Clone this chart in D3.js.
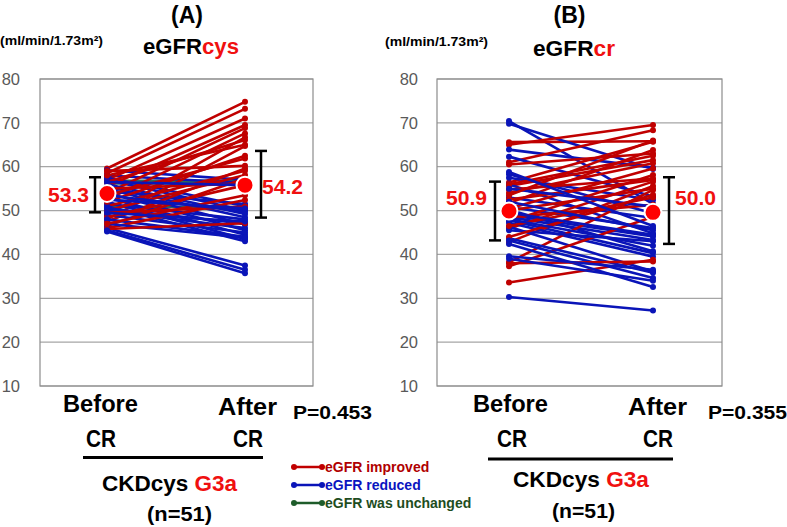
<!DOCTYPE html>
<html>
<head>
<meta charset="utf-8">
<script src="https://cdn.jsdelivr.net/npm/d3@7"></script>
<style>
  html, body { margin: 0; padding: 0; background: #fff; }
  svg { display: block; font-family: "Liberation Sans", Arial, sans-serif; }
</style>
</head>
<body>
<svg id="chart" width="787" height="527"></svg>
<script>
// ---------------- DATA ----------------
const categories = ["Before CR", "After CR"];
const yTicks = [10, 20, 30, 40, 50, 60, 70, 80];

// Panel A: eGFRcys, paired values (before, after) per patient
const cysBefore = [59.6, 59.2, 58.5, 58.0, 57.0, 57.5, 55.5, 57.0, 54.0, 56.0, 52.5, 55.5, 49.0, 55.0, 56.5, 54.5,
  48.0, 54.0, 53.5, 53.0, 59.0, 52.0, 47.5, 51.5, 51.0, 51.0, 50.0, 50.5, 46.5, 50.0, 55.0, 49.0, 48.5, 48.0,
  46.0, 47.0, 49.5, 46.0, 45.8, 45.5, 47.0, 45.2, 52.0, 56.5, 58.0, 53.5, 52.5, 49.5, 56.2, 56.8, 50.8];
const cysAfter = [74.8, 57.0, 73.2, 56.3, 71.0, 51.0, 69.5, 50.0, 68.8, 49.2, 67.6, 48.5, 66.7, 46.8, 66.1, 51.5,
  64.7, 45.5, 61.9, 44.5, 60.2, 43.5, 59.6, 48.0, 59.1, 43.0, 58.1, 47.0, 57.3, 46.0, 56.2, 45.0, 55.8, 44.0,
  52.4, 43.8, 50.9, 37.5, 47.1, 36.5, 53.5, 35.7, 62.5, 55.8, 65.0, 49.8, 50.5, 47.5, 56.2, 56.8, 50.8];

// Panel B: eGFRcr, paired values (before, after) per patient
const crBefore = [70.4, 65.6, 69.8, 65.0, 63.9, 61.0, 62.3, 60.5, 58.3, 56.4, 57.5, 55.6, 56.0, 54.8, 53.0, 54.0,
  50.8, 51.7, 50.2, 50.5, 49.0, 47.5, 48.5, 45.9, 47.8, 42.8, 47.2, 38.2, 46.3, 37.3, 45.5, 33.6, 43.7, 44.0,
  43.2, 48.5, 42.4, 38.0, 39.6, 52.5, 39.0, 56.0, 30.3, 50.0, 55.0, 46.5, 52.0, 53.5, 49.5, 58.8, 48.0];
const crAfter = [51.5, 65.8, 59.5, 69.5, 59.8, 68.3, 53.2, 63.0, 49.4, 65.7, 52.4, 61.5, 44.8, 57.3, 48.3, 60.8,
  46.0, 63.8, 40.7, 59.6, 44.1, 58.1, 43.3, 56.6, 40.3, 55.6, 39.5, 54.7, 36.1, 48.6, 43.0, 38.8, 35.8, 53.6,
  34.6, 51.3, 32.6, 38.4, 36.5, 57.0, 34.0, 62.5, 27.2, 55.0, 50.9, 53.0, 45.5, 66.0, 44.5, 46.5, 42.0];

// mean markers and error bars (as drawn), with printed mean labels
const cysMean = [53.9, 55.8];
const cysErrLow = [49.6, 48.4];
const cysErrHigh = [57.6, 63.6];
const cysMeanLabels = ["53.3", "54.2"];

const crMean = [49.9, 49.6];
const crErrLow = [43.2, 42.4];
const crErrHigh = [56.6, 57.6];
const crMeanLabels = ["50.9", "50.0"];

const pValues = ["P=0.453", "P=0.355"];
const legendLabels = ["eGFR improved", "eGFR reduced", "eGFR was unchanged"];
const legendKeys = ["up", "down", "same"];

// ---------------- STYLE ----------------
const colors = { up: "#C00000", down: "#0A14B8", same: "#2F6B55" };
const legendColors = { up: "#C00000", down: "#0A14B8", same: "#1E5C2A" };
const legendTextColors = { up: "#B00000", down: "#0A14C0", same: "#1E4D1E" };
const brightRed = "#F01010";

const svg = d3.select("#chart");
const y = d3.scaleLinear().domain([10, 80]).range([386, 79]);

const panels = [
  { before: cysBefore, after: cysAfter, mean: cysMean, lo: cysErrLow, hi: cysErrHigh, labels: cysMeanLabels,
    p: pValues[0], frame: [40, 313], pts: [107, 245], tickX: 20,
    title: "(A)", titleX: 187, sub: ["eGFR", "cys"], subX: 191, subW: 96, subY: 54, unitX: 0, unitY: 45,
    errDx: [-12, 16], lblEnd: 89, lblStart: 262, lblY: [201.5, 193.5],
    before_t: [63, 75, 412], after_t: [218, 59, 414.5], cr1: [86, 30], cr2: [233, 30], crY: 447,
    rule: [83, 263, 457.5], ckd: [102, 135, 491], n: [147, 65, 521], pX: 293, pY: 418.5 },
  { before: crBefore, after: crAfter, mean: crMean, lo: crErrLow, hi: crErrHigh, labels: crMeanLabels,
    p: pValues[1], frame: [437, 722], pts: [509, 653], tickX: 418,
    title: "(B)", titleX: 569.5, sub: ["eGFR", "cr"], subX: 574, subW: 82, subY: 56, unitX: 385, unitY: 46,
    errDx: [-14, 16], lblEnd: 487, lblStart: 675, lblY: [205, 205],
    before_t: [473, 75, 412], after_t: [628, 59, 414.5], cr1: [497, 30], cr2: [643, 30], crY: 447,
    rule: [488, 673, 459], ckd: [513, 136, 487], n: [552, 63, 518], pX: 708, pY: 418.5 }
];

panels.forEach(P => {
  const g = svg.append("g");
  const x = d3.scalePoint().domain(categories).range(P.pts);

  // gridlines
  g.selectAll("line.grid").data(yTicks).join("line")
    .attr("x1", P.frame[0]).attr("x2", P.frame[1])
    .attr("y1", d => y(d)).attr("y2", d => y(d))
    .attr("stroke", "#A6A6A6").attr("stroke-width", 1.2);
  // frame
  g.append("rect").attr("x", P.frame[0]).attr("y", y(80))
    .attr("width", P.frame[1] - P.frame[0]).attr("height", y(10) - y(80))
    .attr("fill", "none").attr("stroke", "#8C8C8C").attr("stroke-width", 1.2);

  // y axis labels
  const axis = d3.axisLeft(y).tickValues(yTicks).tickSize(0).tickPadding(0);
  const ag = g.append("g").attr("transform", `translate(${P.tickX},0)`).call(axis);
  ag.select(".domain").remove();
  ag.selectAll("text").attr("fill", "#595959").attr("font-size", 16.5)
    .attr("font-family", "'Liberation Sans', Arial, sans-serif");

  // paired lines (unchanged drawn first, beneath the others)
  const pairs = P.before.map((b, i) => ({ b, a: P.after[i],
    k: P.after[i] > b ? "up" : (P.after[i] < b ? "down" : "same") }));
  const ordered = pairs.filter(d => d.k === "same").concat(pairs.filter(d => d.k !== "same"));
  const lg = g.append("g");
  ordered.forEach(d => {
    lg.append("line")
      .attr("x1", x(categories[0])).attr("y1", y(d.b))
      .attr("x2", x(categories[1])).attr("y2", y(d.a))
      .attr("stroke", colors[d.k]).attr("stroke-width", 2.6).attr("stroke-linecap", "round");
    lg.append("circle").attr("cx", x(categories[0])).attr("cy", y(d.b)).attr("r", 3).attr("fill", colors[d.k]);
    lg.append("circle").attr("cx", x(categories[1])).attr("cy", y(d.a)).attr("r", 3).attr("fill", colors[d.k]);
  });

  // error bars
  categories.forEach((c, i) => {
    const ex = x(c) + P.errDx[i];
    const eg = g.append("g").attr("stroke", "#000").attr("stroke-width", 2.5);
    eg.append("line").attr("x1", ex).attr("x2", ex).attr("y1", y(P.hi[i])).attr("y2", y(P.lo[i]));
    eg.append("line").attr("x1", ex - 6).attr("x2", ex + 6).attr("y1", y(P.hi[i])).attr("y2", y(P.hi[i]));
    eg.append("line").attr("x1", ex - 6).attr("x2", ex + 6).attr("y1", y(P.lo[i])).attr("y2", y(P.lo[i]));
    // mean marker
    g.append("circle").attr("cx", x(c)).attr("cy", y(P.mean[i])).attr("r", 8.5)
      .attr("fill", "#FF0000").attr("stroke", "#fff").attr("stroke-width", 2);
  });
  // mean labels
  g.append("text").attr("x", P.lblEnd).attr("y", P.lblY[0]).attr("text-anchor", "end")
    .attr("font-size", 21).attr("font-weight", "bold").attr("fill", brightRed)
    .attr("textLength", 41).attr("lengthAdjust", "spacingAndGlyphs").text(P.labels[0]);
  g.append("text").attr("x", P.lblStart).attr("y", P.lblY[1])
    .attr("font-size", 21).attr("font-weight", "bold").attr("fill", brightRed)
    .attr("textLength", 41).attr("lengthAdjust", "spacingAndGlyphs").text(P.labels[1]);

  // titles
  g.append("text").attr("x", P.titleX).attr("y", 23).attr("text-anchor", "middle")
    .attr("font-size", 23).attr("font-weight", "bold").attr("fill", "#000").text(P.title);
  const st = g.append("text").attr("x", P.subX).attr("y", P.subY).attr("text-anchor", "middle")
    .attr("font-size", 22).attr("font-weight", "bold")
    .attr("textLength", P.subW).attr("lengthAdjust", "spacingAndGlyphs");
  st.append("tspan").attr("fill", "#000").text(P.sub[0]);
  st.append("tspan").attr("fill", brightRed).text(P.sub[1]);
  g.append("text").attr("x", P.unitX).attr("y", P.unitY)
    .attr("font-size", 12.5).attr("font-weight", "bold").attr("fill", "#000")
    .attr("textLength", 103).attr("lengthAdjust", "spacingAndGlyphs").text("(ml/min/1.73m²)");

  // category labels
  const big = (txt, x0, w, yy, size) => g.append("text").attr("x", x0).attr("y", yy)
    .attr("font-size", size).attr("font-weight", "bold").attr("fill", "#000")
    .attr("textLength", w).attr("lengthAdjust", "spacingAndGlyphs").text(txt);
  big(categories[0].split(" ")[0], P.before_t[0], P.before_t[1], P.before_t[2], 24);
  big(categories[1].split(" ")[0], P.after_t[0], P.after_t[1], P.after_t[2], 24);
  big(categories[0].split(" ")[1], P.cr1[0], P.cr1[1], P.crY, 24);
  big(categories[1].split(" ")[1], P.cr2[0], P.cr2[1], P.crY, 24);

  g.append("line").attr("x1", P.rule[0]).attr("x2", P.rule[1]).attr("y1", P.rule[2]).attr("y2", P.rule[2])
    .attr("stroke", "#000").attr("stroke-width", 3);

  const ck = g.append("text").attr("x", P.ckd[0]).attr("y", P.ckd[2])
    .attr("font-size", 22).attr("font-weight", "bold")
    .attr("textLength", P.ckd[1]).attr("lengthAdjust", "spacingAndGlyphs");
  ck.append("tspan").attr("fill", "#000").text("CKDcys ");
  ck.append("tspan").attr("fill", brightRed).text("G3a");
  big("(n=51)", P.n[0], P.n[1], P.n[2], 21);

  g.append("text").attr("x", P.pX).attr("y", P.pY)
    .attr("font-size", 18).attr("font-weight", "bold").attr("fill", "#000")
    .attr("textLength", 79).attr("lengthAdjust", "spacingAndGlyphs").text(P.p);
});

// legend
const lgd = svg.append("g");
legendKeys.forEach((k, i) => {
  const yy = 467 + i * 18;
  lgd.append("line").attr("x1", 294).attr("x2", 322).attr("y1", yy).attr("y2", yy)
    .attr("stroke", legendColors[k]).attr("stroke-width", 2.5);
  lgd.append("circle").attr("cx", 294).attr("cy", yy).attr("r", 3).attr("fill", legendColors[k]);
  lgd.append("circle").attr("cx", 322).attr("cy", yy).attr("r", 3).attr("fill", legendColors[k]);
  lgd.append("text").attr("x", 325).attr("y", yy + 5)
    .attr("font-size", 14).attr("font-weight", "bold").attr("fill", legendTextColors[k])
    .text(legendLabels[i]);
});
</script>
</body>
</html>
